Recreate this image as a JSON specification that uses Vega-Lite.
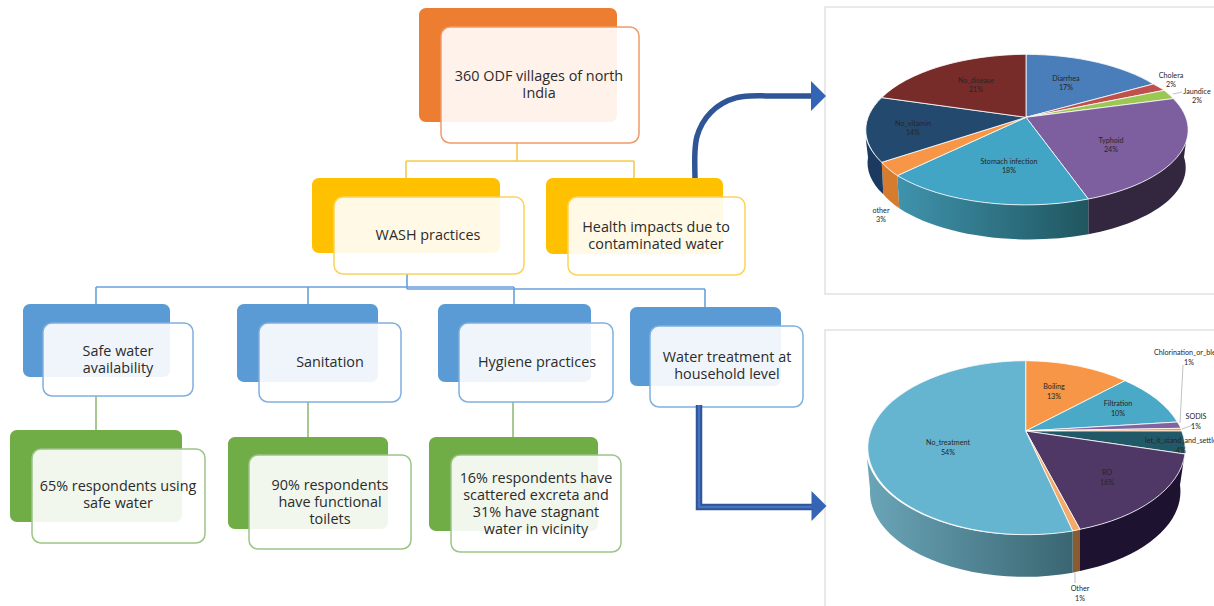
{
  "$schema": "https://vega.github.io/schema/vega-lite/v6.json",
  "width": 1214,
  "height": 606,
  "padding": 0,
  "autosize": {"type": "none"},
  "background": "#ffffff",
  "view": {"stroke": null},
  "resolve": {"scale": {"color": "independent", "fill": "independent", "stroke": "independent", "shape": "independent"}},
  "datasets": {
    "panels": [
      {"panel": "Health impacts", "x": 825, "x2": 1230, "y": 7, "y2": 294},
      {"panel": "Water treatment", "x": 825, "x2": 1230, "y": 330, "y2": 630}
    ],
    "links": [
      {"tier": "gold", "x": 517, "x2": 517, "y": 143, "y2": 161},
      {"tier": "gold", "x": 406, "x2": 634, "y": 161, "y2": 161},
      {"tier": "gold", "x": 406, "x2": 406, "y": 161, "y2": 178},
      {"tier": "gold", "x": 634, "x2": 634, "y": 161, "y2": 178},
      {"tier": "blue", "x": 407, "x2": 407, "y": 274, "y2": 289},
      {"tier": "blue", "x": 96, "x2": 514, "y": 287, "y2": 287},
      {"tier": "blue", "x": 407, "x2": 705, "y": 289, "y2": 289},
      {"tier": "blue", "x": 96, "x2": 96, "y": 287, "y2": 304},
      {"tier": "blue", "x": 308, "x2": 308, "y": 287, "y2": 304},
      {"tier": "blue", "x": 514, "x2": 514, "y": 287, "y2": 304},
      {"tier": "blue", "x": 705, "x2": 705, "y": 289, "y2": 307},
      {"tier": "green", "x": 96, "x2": 96, "y": 396, "y2": 430},
      {"tier": "green", "x": 308, "x2": 308, "y": 402, "y2": 437},
      {"tier": "green", "x": 513, "x2": 513, "y": 402, "y2": 437}
    ],
    "boxes": [
      {"label": "360 ODF villages of north\nIndia", "tier": "orange", "bx": 419, "bx2": 617, "by": 8, "by2": 122, "fx": 441, "fx2": 639, "fy": 27, "fy2": 143, "tx": 539, "ty": 77},
      {"label": "WASH practices", "tier": "gold", "bx": 312, "bx2": 500, "by": 178, "by2": 253, "fx": 334, "fx2": 524, "fy": 197, "fy2": 274, "tx": 428, "ty": 236},
      {"label": "Health impacts due to\ncontaminated water", "tier": "gold", "bx": 546, "bx2": 723, "by": 178, "by2": 254, "fx": 568, "fx2": 745, "fy": 197, "fy2": 275, "tx": 656, "ty": 228},
      {"label": "Safe water\navailability", "tier": "blue", "bx": 23, "bx2": 170, "by": 304, "by2": 377, "fx": 43, "fx2": 193, "fy": 323, "fy2": 396, "tx": 118, "ty": 352},
      {"label": "Sanitation", "tier": "blue", "bx": 237, "bx2": 378, "by": 304, "by2": 382, "fx": 259, "fx2": 401, "fy": 323, "fy2": 402, "tx": 330, "ty": 363},
      {"label": "Hygiene practices", "tier": "blue", "bx": 438, "bx2": 591, "by": 304, "by2": 382, "fx": 459, "fx2": 613, "fy": 323, "fy2": 402, "tx": 537, "ty": 363},
      {"label": "Water treatment at\nhousehold level", "tier": "blue", "bx": 630, "bx2": 781, "by": 307, "by2": 386, "fx": 650, "fx2": 803, "fy": 326, "fy2": 407, "tx": 727, "ty": 358},
      {"label": "65% respondents using\nsafe water", "tier": "green", "bx": 10, "bx2": 182, "by": 430, "by2": 522, "fx": 32, "fx2": 205, "fy": 449, "fy2": 543, "tx": 118, "ty": 487},
      {"label": "90% respondents\nhave functional\ntoilets", "tier": "green", "bx": 228, "bx2": 388, "by": 437, "by2": 529, "fx": 249, "fx2": 411, "fy": 455, "fy2": 549, "tx": 330, "ty": 486},
      {"label": "16% respondents have\nscattered excreta and\n31% have stagnant\nwater in vicinity", "tier": "green", "bx": 429, "bx2": 598, "by": 437, "by2": 531, "fx": 451, "fx2": 621, "fy": 455, "fy2": 552, "tx": 536, "ty": 479}
    ],
    "arrowPaths": [
      {"arrow": "health", "step": 0, "x": 695, "y": 178},
      {"arrow": "health", "step": 1, "x": 695, "y": 151},
      {"arrow": "health", "step": 2, "x": 696.9, "y": 136.8},
      {"arrow": "health", "step": 3, "x": 702.4, "y": 123.5},
      {"arrow": "health", "step": 4, "x": 711.1, "y": 112.1},
      {"arrow": "health", "step": 5, "x": 722.5, "y": 103.4},
      {"arrow": "health", "step": 6, "x": 735.8, "y": 97.9},
      {"arrow": "health", "step": 7, "x": 750, "y": 96},
      {"arrow": "health", "step": 8, "x": 775, "y": 96},
      {"arrow": "health", "step": 9, "x": 813, "y": 96},
      {"arrow": "treatment", "step": 0, "x": 699, "y": 405},
      {"arrow": "treatment", "step": 1, "x": 699, "y": 507},
      {"arrow": "treatment", "step": 2, "x": 813, "y": 507}
    ],
    "arrowHeads": [
      {"arrow": "health", "x": 818.5, "y": 96},
      {"arrow": "treatment", "x": 819, "y": 506}
    ],
    "diseases": [
      {"slice": "Diarrhea", "value": 17, "label": "Diarrhea\n17%", "lx": 1066, "ly": 79},
      {"slice": "Cholera", "value": 2, "label": "Cholera\n2%", "lx": 1171, "ly": 76},
      {"slice": "Jaundice", "value": 2, "label": "Jaundice\n2%", "lx": 1197, "ly": 92},
      {"slice": "Typhoid", "value": 24, "label": "Typhoid\n24%", "lx": 1111, "ly": 141},
      {"slice": "Stomach infection", "value": 18, "label": "Stomach infection\n18%", "lx": 1009, "ly": 162},
      {"slice": "other", "value": 3, "label": "other\n3%", "lx": 881, "ly": 211},
      {"slice": "No_vitamin", "value": 14, "label": "No_vitamin\n14%", "lx": 913, "ly": 124},
      {"slice": "No_disease", "value": 21, "label": "No_disease\n21%", "lx": 976, "ly": 81}
    ],
    "diseaseWalls": [
      {"wall": "Typhoid side"},
      {"wall": "other side"},
      {"wall": "No_vitamin side"}
    ],
    "treatments": [
      {"slice": "Boiling", "value": 13, "label": "Boiling\n13%", "lx": 1054, "ly": 387},
      {"slice": "Filtration", "value": 10, "label": "Filtration\n10%", "lx": 1118, "ly": 404},
      {"slice": "Chlorination_or_bleach", "value": 1},
      {"slice": "SODIS", "value": 1, "label": "SODIS\n1%", "lx": 1196, "ly": 417},
      {"slice": "let_it_stand_and_settle", "value": 4},
      {"slice": "RO", "value": 16, "label": "RO\n16%", "lx": 1107, "ly": 473},
      {"slice": "Other", "value": 1, "label": "Other\n1%", "lx": 1080, "ly": 589},
      {"slice": "No_treatment", "value": 54, "label": "No_treatment\n54%", "lx": 948, "ly": 443}
    ],
    "treatmentWalls": [
      {"wall": "RO side"},
      {"wall": "Other side"}
    ],
    "looseLabels": [
      {"label": "Chlorination_or_bleach", "x": 1154, "y": 353},
      {"label": "let_it_stand_and_settle", "x": 1145, "y": 441}
    ],
    "loosePercents": [
      {"label": "1%", "x": 1189, "y": 363},
      {"label": "4%", "x": 1181, "y": 451}
    ],
    "leaders": [
      {"x": 1173, "x2": 1182, "y": 94, "y2": 92},
      {"x": 1183, "x2": 1180, "y": 365, "y2": 423},
      {"x": 1193, "x2": 1182, "y": 425, "y2": 429},
      {"x": 1075, "x2": 1075, "y": 573, "y2": 583}
    ]
  },
  "layer": [
    {
      "data": {"name": "panels"},
      "mark": {"type": "rect", "fill": "#ffffff", "stroke": "#e2e2e2", "strokeWidth": 1.5, "clip": true},
      "encoding": {
        "x": {"field": "x", "type": "quantitative", "scale": {"domain": [0, 1214]}, "axis": null},
        "x2": {"field": "x2"},
        "y": {"field": "y", "type": "quantitative", "scale": {"domain": [606, 0]}, "axis": null},
        "y2": {"field": "y2"}
      }
    },
    {
      "data": {"name": "links"},
      "mark": {"type": "rule", "strokeWidth": 1.6},
      "encoding": {
        "x": {"field": "x", "type": "quantitative", "scale": {"domain": [0, 1214]}, "axis": null},
        "x2": {"field": "x2"},
        "y": {"field": "y", "type": "quantitative", "scale": {"domain": [606, 0]}, "axis": null},
        "y2": {"field": "y2"},
        "color": {"field": "tier", "type": "nominal", "legend": null, "scale": {"domain": ["gold", "blue", "green"], "range": ["#f3cb4e", "#6a9fd8", "#93bb78"]}}
      }
    },
    {
      "data": {"name": "boxes"},
      "mark": {"type": "rect", "cornerRadius": 7},
      "encoding": {
        "x": {"field": "bx", "type": "quantitative", "scale": {"domain": [0, 1214]}, "axis": null},
        "x2": {"field": "bx2"},
        "y": {"field": "by", "type": "quantitative", "scale": {"domain": [606, 0]}, "axis": null},
        "y2": {"field": "by2"},
        "fill": {"field": "tier", "type": "nominal", "legend": null, "scale": {"domain": ["orange", "gold", "blue", "green"], "range": ["#ed7d31", "#ffc000", "#5b9bd5", "#70ad47"]}}
      }
    },
    {
      "data": {"name": "boxes"},
      "mark": {"type": "rect", "cornerRadius": 9, "fill": "#ffffff", "fillOpacity": 0.9, "strokeWidth": 1.5},
      "encoding": {
        "x": {"field": "fx", "type": "quantitative", "scale": {"domain": [0, 1214]}, "axis": null},
        "x2": {"field": "fx2"},
        "y": {"field": "fy", "type": "quantitative", "scale": {"domain": [606, 0]}, "axis": null},
        "y2": {"field": "fy2"},
        "stroke": {"field": "tier", "type": "nominal", "legend": null, "scale": {"domain": ["orange", "gold", "blue", "green"], "range": ["#ef9a6a", "#fcd45a", "#7fb0e0", "#9cc487"]}}
      }
    },
    {
      "data": {"name": "boxes"},
      "mark": {"type": "text", "font": "Open Sans", "fontSize": 14.4, "lineHeight": 17, "lineBreak": "\n", "align": "center", "baseline": "middle", "color": "#2b2b2b"},
      "encoding": {
        "x": {"field": "tx", "type": "quantitative", "scale": {"domain": [0, 1214]}, "axis": null},
        "y": {"field": "ty", "type": "quantitative", "scale": {"domain": [606, 0]}, "axis": null},
        "text": {"field": "label"}
      }
    },
    {
      "data": {"name": "arrowPaths"},
      "transform": [{"filter": "datum.arrow === 'health'"}],
      "mark": {"type": "line", "color": "#2f5597", "strokeWidth": 5.5, "strokeCap": "butt", "interpolate": "catmull-rom"},
      "encoding": {
        "x": {"field": "x", "type": "quantitative", "scale": {"domain": [0, 1214]}, "axis": null},
        "y": {"field": "y", "type": "quantitative", "scale": {"domain": [606, 0]}, "axis": null},
        "order": {"field": "step"}
      }
    },
    {
      "data": {"name": "arrowPaths"},
      "transform": [{"filter": "datum.arrow === 'treatment'"}],
      "mark": {"type": "line", "color": "#2f5597", "strokeWidth": 6.5, "strokeCap": "butt"},
      "encoding": {
        "x": {"field": "x", "type": "quantitative", "scale": {"domain": [0, 1214]}, "axis": null},
        "y": {"field": "y", "type": "quantitative", "scale": {"domain": [606, 0]}, "axis": null},
        "order": {"field": "step"}
      }
    },
    {
      "data": {"name": "arrowPaths"},
      "transform": [{"filter": "datum.arrow === 'treatment'"}],
      "mark": {"type": "line", "color": "#4472c4", "strokeWidth": 2.5, "strokeCap": "butt"},
      "encoding": {
        "x": {"field": "x", "type": "quantitative", "scale": {"domain": [0, 1214]}, "axis": null},
        "y": {"field": "y", "type": "quantitative", "scale": {"domain": [606, 0]}, "axis": null},
        "order": {"field": "step"}
      }
    },
    {
      "data": {"name": "arrowHeads"},
      "mark": {"type": "point", "filled": true, "opacity": 1, "size": 4, "shape": "M-7.5,-15 L7.5,0 L-7.5,15 Z", "color": "#3464b4"},
      "encoding": {
        "x": {"field": "x", "type": "quantitative", "scale": {"domain": [0, 1214]}, "axis": null},
        "y": {"field": "y", "type": "quantitative", "scale": {"domain": [606, 0]}, "axis": null}
      }
    },
    {
      "description": "Outer wall of the disease pie; the stomach-infection wall has its own gradient layer below.",
      "data": {"name": "diseaseWalls"},
      "mark": {"type": "point", "filled": true, "opacity": 1, "size": 4},
      "encoding": {
        "x": {"datum": 1026, "type": "quantitative", "scale": {"domain": [0, 1214]}, "axis": null},
        "y": {"datum": 117.3, "type": "quantitative", "scale": {"domain": [606, 0]}, "axis": null},
        "shape": {"field": "wall", "type": "nominal", "legend": null, "scale": {"domain": ["Typhoid side", "other side", "No_vitamin side"], "range": [
          "M161.6,11.7 A161.3,74.7 0 0 1 62.3,81.7 L62.3,117 A158,72 0 0 0 158,40 Z",
          "M-128.7,58.3 A161.3,74.7 0 0 1 -144.3,45 L-142.7,77 A158,72 0 0 0 -126.7,91 Z",
          "M-160.3,21 A161.3,74.7 0 0 0 -144.3,45 L-142.7,77 A158,72 0 0 1 -158,40 Z"
        ]}},
        "fill": {"field": "wall", "type": "nominal", "legend": null, "scale": {"domain": ["Typhoid side", "other side", "No_vitamin side"], "range": ["#33263f", "#d67c2f", "#1c3a60"]}}
      }
    },
    {
      "data": {"values": [{"wall": "Stomach infection side"}]},
      "mark": {
        "type": "point", "opacity": 1, "size": 4,
        "shape": "M62.3,81.7 A161.3,74.7 0 0 1 -128.7,58.3 L-126.7,91 A158,72 0 0 0 62.3,117 Z",
        "filled": true,
        "fill": {"x1": 0, "y1": 0, "x2": 1, "y2": 0, "gradient": "linear", "stops": [{"offset": 0, "color": "#3f93ad"}, {"offset": 1, "color": "#20565f"}]}
      },
      "encoding": {
        "x": {"datum": 1026, "type": "quantitative", "scale": {"domain": [0, 1214]}, "axis": null},
        "y": {"datum": 117.3, "type": "quantitative", "scale": {"domain": [606, 0]}, "axis": null}
      }
    },
    {
      "data": {"name": "diseases"},
      "mark": {"type": "point", "filled": true, "opacity": 1, "size": 4, "stroke": "#ffffff", "strokeWidth": 0.8},
      "encoding": {
        "x": {"datum": 1026, "type": "quantitative", "scale": {"domain": [0, 1214]}, "axis": null},
        "y": {"datum": 117.3, "type": "quantitative", "scale": {"domain": [606, 0]}, "axis": null},
        "shape": {"field": "slice", "type": "nominal", "legend": null, "scale": {"domain": ["Diarrhea", "Cholera", "Jaundice", "Typhoid", "Stomach infection", "other", "No_vitamin", "No_disease"], "range": [
          "M0,0 L0,-63 A161.3,74.7 0 0 1 127.3,-33.3 Z",
          "M0,0 L127.3,-33.3 A161.3,74.7 0 0 1 138.3,-27 Z",
          "M0,0 L138.3,-27 A161.3,74.7 0 0 1 147.3,-18.7 Z",
          "M0,0 L147.3,-18.7 A161.3,74.7 0 0 1 62.3,81.7 Z",
          "M0,0 L62.3,81.7 A161.3,74.7 0 0 1 -128.7,58.3 Z",
          "M0,0 L-128.7,58.3 A161.3,74.7 0 0 1 -144.3,45 Z",
          "M0,0 L-144.3,45 A161.3,74.7 0 0 1 -144.3,-19.7 Z",
          "M0,0 L-144.3,-19.7 A161.3,74.7 0 0 1 0,-63 Z"
        ]}},
        "fill": {"field": "slice", "type": "nominal", "legend": null, "scale": {"domain": ["Diarrhea", "Cholera", "Jaundice", "Typhoid", "Stomach infection", "other", "No_vitamin", "No_disease"], "range": ["#4a7ebb", "#c0504d", "#9bc753", "#7d5fa0", "#42a5c5", "#f79646", "#24496f", "#772c2a"]}}
      }
    },
    {
      "data": {"name": "treatmentWalls"},
      "mark": {"type": "point", "filled": true, "opacity": 1, "size": 4},
      "encoding": {
        "x": {"datum": 1025.7, "type": "quantitative", "scale": {"domain": [0, 1214]}, "axis": null},
        "y": {"datum": 431, "type": "quantitative", "scale": {"domain": [606, 0]}, "axis": null},
        "shape": {"field": "wall", "type": "nominal", "legend": null, "scale": {"domain": ["RO side", "Other side"], "range": [
          "M158.5,26 A159,87 0 0 1 54.3,98.3 L54.3,140 A155,85 0 0 0 154.3,54 Z",
          "M54.3,98.3 A159,87 0 0 1 47,100 L47,141.7 A155,85 0 0 0 54.3,140 Z"
        ]}},
        "fill": {"field": "wall", "type": "nominal", "legend": null, "scale": {"domain": ["RO side", "Other side"], "range": ["#1d1230", "#8a5a30"]}}
      }
    },
    {
      "data": {"values": [{"wall": "No_treatment side"}]},
      "mark": {
        "type": "point", "opacity": 1, "size": 4,
        "shape": "M-158.7,27 A159,87 0 0 0 47,100 L47,141.7 A155,85 0 0 1 -155.7,58 Z",
        "filled": true,
        "fill": {"x1": 0, "y1": 0, "x2": 1, "y2": 0, "gradient": "linear", "stops": [{"offset": 0, "color": "#6aa5b8"}, {"offset": 1, "color": "#3a6672"}]}
      },
      "encoding": {
        "x": {"datum": 1025.7, "type": "quantitative", "scale": {"domain": [0, 1214]}, "axis": null},
        "y": {"datum": 431, "type": "quantitative", "scale": {"domain": [606, 0]}, "axis": null}
      }
    },
    {
      "data": {"name": "treatments"},
      "mark": {"type": "point", "filled": true, "opacity": 1, "size": 4, "stroke": "#ffffff", "strokeWidth": 0.8},
      "encoding": {
        "x": {"datum": 1025.7, "type": "quantitative", "scale": {"domain": [0, 1214]}, "axis": null},
        "y": {"datum": 431, "type": "quantitative", "scale": {"domain": [606, 0]}, "axis": null},
        "shape": {"field": "slice", "type": "nominal", "legend": null, "scale": {"domain": ["Boiling", "Filtration", "Chlorination_or_bleach", "SODIS", "let_it_stand_and_settle", "RO", "Other", "No_treatment"], "range": [
          "M0,0 L0,-70.3 A159,87 0 0 1 99.3,-50.3 Z",
          "M0,0 L99.3,-50.3 A159,87 0 0 1 151.7,-9 Z",
          "M0,0 L151.7,-9 A159,87 0 0 1 155.3,-2.7 Z",
          "M0,0 L155.3,-2.7 A159,87 0 0 1 156,0 Z",
          "M0,0 L156,0 A159,87 0 0 1 159.3,23 Z",
          "M0,0 L159.3,23 A159,87 0 0 1 54.3,98.3 Z",
          "M0,0 L54.3,98.3 A159,87 0 0 1 47,100 Z",
          "M0,0 L47,100 A159,87 0 1 1 0,-70.3 Z"
        ]}},
        "fill": {"field": "slice", "type": "nominal", "legend": null, "scale": {"domain": ["Boiling", "Filtration", "Chlorination_or_bleach", "SODIS", "let_it_stand_and_settle", "RO", "Other", "No_treatment"], "range": ["#f79646", "#4aa9c6", "#8064a2", "#f79646", "#215968", "#4f3866", "#f4aa6a", "#66b5d0"]}}
      }
    },
    {
      "data": {"name": "leaders"},
      "mark": {"type": "rule", "color": "#a6a6a6", "strokeWidth": 0.7},
      "encoding": {
        "x": {"field": "x", "type": "quantitative", "scale": {"domain": [0, 1214]}, "axis": null},
        "x2": {"field": "x2"},
        "y": {"field": "y", "type": "quantitative", "scale": {"domain": [606, 0]}, "axis": null},
        "y2": {"field": "y2"}
      }
    },
    {
      "data": {"name": "diseases"},
      "mark": {"type": "text", "font": "Lato", "fontSize": 7.2, "lineHeight": 9, "lineBreak": "\n", "align": "center", "baseline": "middle", "color": "#262626"},
      "encoding": {
        "x": {"field": "lx", "type": "quantitative", "scale": {"domain": [0, 1214]}, "axis": null},
        "y": {"field": "ly", "type": "quantitative", "scale": {"domain": [606, 0]}, "axis": null},
        "text": {"field": "label"}
      }
    },
    {
      "data": {"name": "treatments"},
      "transform": [{"filter": "isValid(datum.label)"}],
      "mark": {"type": "text", "font": "Lato", "fontSize": 7.2, "lineHeight": 10, "lineBreak": "\n", "align": "center", "baseline": "middle", "color": "#262626"},
      "encoding": {
        "x": {"field": "lx", "type": "quantitative", "scale": {"domain": [0, 1214]}, "axis": null},
        "y": {"field": "ly", "type": "quantitative", "scale": {"domain": [606, 0]}, "axis": null},
        "text": {"field": "label"}
      }
    },
    {
      "data": {"name": "looseLabels"},
      "mark": {"type": "text", "font": "Lato", "fontSize": 7.2, "align": "left", "baseline": "middle", "color": "#262626"},
      "encoding": {
        "x": {"field": "x", "type": "quantitative", "scale": {"domain": [0, 1214]}, "axis": null},
        "y": {"field": "y", "type": "quantitative", "scale": {"domain": [606, 0]}, "axis": null},
        "text": {"field": "label"}
      }
    },
    {
      "data": {"name": "loosePercents"},
      "mark": {"type": "text", "font": "Lato", "fontSize": 7.2, "align": "center", "baseline": "middle", "color": "#262626"},
      "encoding": {
        "x": {"field": "x", "type": "quantitative", "scale": {"domain": [0, 1214]}, "axis": null},
        "y": {"field": "y", "type": "quantitative", "scale": {"domain": [606, 0]}, "axis": null},
        "text": {"field": "label"}
      }
    }
  ]
}
